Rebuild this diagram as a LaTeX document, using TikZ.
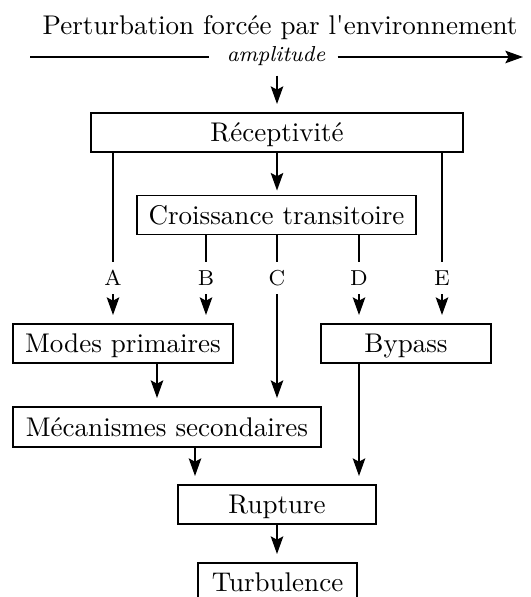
\documentclass[tikz,border=0pt]{standalone}
\usepackage{fontspec}
\usetikzlibrary{arrows.meta}
\begin{document}
\begin{tikzpicture}[x=0.37pt,y=-0.37pt,
  box/.style={draw,line width=0.65pt,inner sep=0pt,text height=7.5pt,text depth=0.5pt,minimum height=39*0.37pt},
  lab/.style={font=\footnotesize,inner sep=3pt,text height=5.5pt,text depth=0pt},
  conn/.style={line width=0.8pt},
  arr/.style={line width=0.8pt,-{Stealth[length=6.5pt,width=4.6pt,inset=1.2pt]},shorten >=3pt}]
\useasboundingbox (0,0) rectangle (531,597);
% title and amplitude axis
\node[anchor=base,inner sep=0pt] (title) at (280,35) {Perturbation forcée par l\textquotesingle environnement};
\node[anchor=base,inner sep=0pt,font=\footnotesize\itshape] (amp) at (276,62) {amplitude};
\coordinate (axL) at (30,57);
\coordinate (axR) at (523,57);
\draw[conn,shorten >=6.3pt] (axL) -- (axL -| amp.west);
\draw[arr,shorten >=0pt,shorten <=4.4pt] (axR -| amp.east) -- (axR);
% boxes
\node[box,minimum width=372*0.37pt] (rec) at (277,132.5) {Réceptivité};
\node[box,minimum width=279*0.37pt] (cro) at (276.5,215) {Croissance transitoire};
\node[box,minimum width=220*0.37pt] (modes) at (123,343.5) {Modes primaires};
\node[box,minimum width=170*0.37pt] (byp) at (406,343.5) {Bypass};
\node[box,minimum width=308*0.37pt,minimum height=40*0.37pt] (mec) at (167,427) {Mécanismes secondaires};
\node[box,minimum width=198*0.37pt] (rup) at (277,504.5) {Rupture};
\node[box,minimum width=159*0.37pt] (turb) at (277.5,582.5) {Turbulence};
% labels
\node[lab] (A) at (113,278) {A};
\node[lab] (B) at (206,278) {B};
\node[lab] (C) at (277,278) {C};
\node[lab] (D) at (359,278) {D};
\node[lab] (E) at (442,278) {E};
\coordinate (xMS) at (157,0);
\coordinate (xMR) at (195,0);
% connectors
\draw[arr,shorten <=3.3pt] (amp.south -| rec.north) -- (rec.north);
\draw[arr,shorten >=1.5pt] (rec.south) -- (rec.south |- cro.north);
\draw[conn] (rec.south -| A) -- (A);
\draw[conn] (rec.south -| E) -- (E);
\draw[conn] (cro.south -| B) -- (B);
\draw[conn] (cro.south -| C) -- (C);
\draw[conn] (cro.south -| D) -- (D);
\draw[arr] (A) -- (A |- modes.north);
\draw[arr] (B) -- (B |- modes.north);
\draw[arr] (C) -- (C |- mec.north);
\draw[arr] (D) -- (D |- byp.north);
\draw[arr] (E) -- (E |- byp.north);
\draw[arr] (modes.south -| xMS) -- (mec.north -| xMS);
\draw[arr] (mec.south -| xMR) -- (rup.north -| xMR);
\draw[arr] (byp.south -| D) -- (rup.north -| D);
\draw[arr] (rup.south) -- (rup.south |- turb.north);
\end{tikzpicture}
\end{document}
